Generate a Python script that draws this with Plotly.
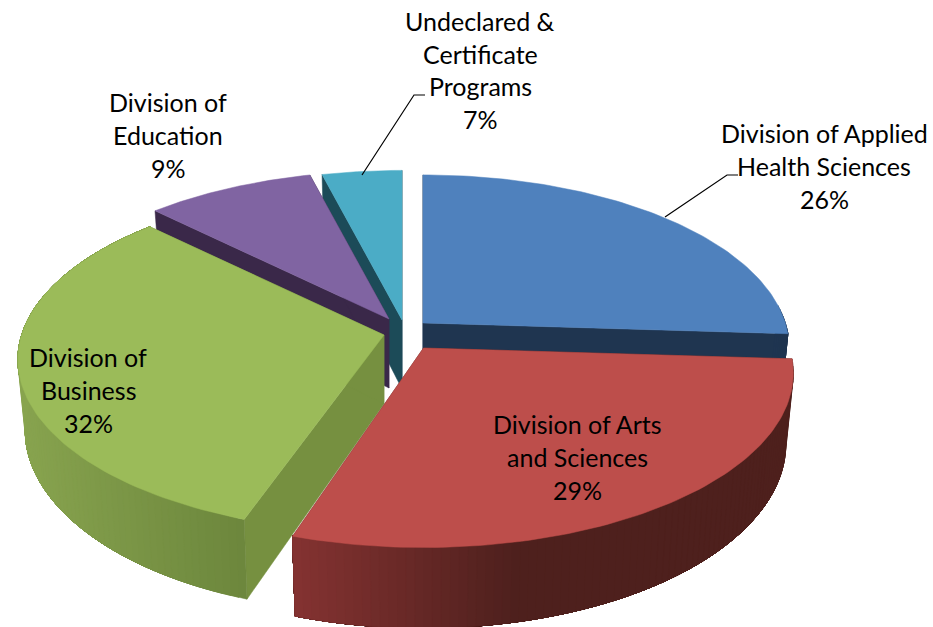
import math
import plotly.graph_objects as go

# Data
categories = ["Division of Applied<br>Health Sciences", "Division of Arts<br>and Sciences",
              "Division of<br>Business", "Division of<br>Education",
              "Undeclared &<br>Certificate<br>Programs"]
slice_shares = [26, 29, 32, 9, 4]      # drawn angular share of each slice
percent_labels = ["26%", "29%", "32%", "9%", "7%"]

# Styling and layout
TOP = ["#4f81bd", "#bd4e4b", "#9bbb59", "#8064a2", "#4bacc6"]
RADIAL = ["#1f3550", "#5a2422", "#769040", "#3a2849", "#1c4b58"]
WALL_LEFT = [(40, 70, 110), (134, 51, 50), (136, 164, 79), (60, 45, 80), (30, 80, 95)]
WALL_RIGHT = [(31, 53, 80), (78, 32, 29), (109, 135, 61), (58, 40, 73), (28, 75, 88)]
WALL_X = [(423, 787), (290, 520), (17, 241), (155, 315), (325, 402)]
APEX = [(423, 323), (423.5, 348), (384, 335), (389, 319), (402, 320)]
SCALE = [0.99, 1.0, 0.99, 0.99, 1.0]
TRIM_DEG = [(0, 0), (0, 0), (1.5, 1.5), (1.5, 0), (0, 0)]  # perspective correction of slice edges
RX, RY, K, DEPTH, BOTTOM_SHRINK = 366, 171, 0.143, 69, 0.98
LABEL_POS = [(824, 166), (577, 457), (88, 390), (168, 135), (480, 70)]
LINE_STEP = 32.8
LEADERS = [([665, 727, 738], [217, 175, 175]), ([362, 414, 425], [175, 95, 95])]
FONT = dict(family="Lato", size=25, color="#000000")


def top_pt(i, t):
    X, Y = math.sin(t), -math.cos(t)
    d = 1 - K * Y
    s = SCALE[i]
    return APEX[i][0] + s * RX * X / d, APEX[i][1] + s * RY * Y / d


def bot_pt(i, t):
    X, Y = math.sin(t), -math.cos(t)
    d = 1 - K * Y
    s = SCALE[i]
    return APEX[i][0] + s * BOTTOM_SHRINK * RX * X / d, APEX[i][1] + s * RY * Y / d + DEPTH / d


def poly(xs, ys, color, name=None):
    return go.Scatter(x=xs + xs[:1], y=ys + ys[:1], mode="lines", fill="toself",
                      fillcolor=color, line=dict(color=color, width=0.5),
                      showlegend=False, hoverinfo="skip" if name is None else "text",
                      text=name, name=name or "")


def wall_color(i, x):
    a, b = WALL_X[i]
    f = min(1, max(0, (x - a) / (b - a)))
    c = [round(l + (r - l) * f) for l, r in zip(WALL_LEFT[i], WALL_RIGHT[i])]
    return "rgb(%d,%d,%d)" % tuple(c)


fig = go.Figure()
total = sum(slice_shares)
angles, acc = [], 0
for i, v in enumerate(slice_shares):
    angles.append((acc / total * 2 * math.pi + math.radians(TRIM_DEG[i][0]),
                   (acc + v) / total * 2 * math.pi + math.radians(TRIM_DEG[i][1])))
    acc += v

for i in [4, 3, 0, 2, 1]:  # painter's order, back to front
    t0, t1 = angles[i]
    ax, ay = APEX[i]
    # radial faces
    for t in (t0, t1):
        x1, y1 = top_pt(i, t)
        x2, y2 = bot_pt(i, t)
        fig.add_trace(poly([ax, x1, x2, ax], [ay, y1, y2, ay + DEPTH], RADIAL[i]))
    # outer curved face: overlapping bands, each painted from its start to the slice end
    n = max(4, int((t1 - t0) / (2 * math.pi) * 300))
    for j in range(n):
        a = t0 + (t1 - t0) * j / n
        if -math.cos(a + (t1 - t0) / n / 2) < -0.1:
            continue
        steps = [a + (t1 - a) * s / 30 for s in range(31)]
        up = [top_pt(i, t) for t in steps]
        dn = [bot_pt(i, t) for t in reversed(steps)]
        fig.add_trace(poly([p[0] for p in up + dn], [p[1] for p in up + dn],
                           wall_color(i, top_pt(i, a)[0])))
    # top face
    m = 90
    pts = [top_pt(i, t0 + (t1 - t0) * j / m) for j in range(m + 1)]
    fig.add_trace(poly([ax] + [p[0] for p in pts], [ay] + [p[1] for p in pts], TOP[i],
                       categories[i].replace("<br>", " ") + ": " + percent_labels[i]))

for lx, ly in LEADERS:
    fig.add_trace(go.Scatter(x=lx, y=ly, mode="lines", line=dict(color="#000000", width=1.2),
                             showlegend=False, hoverinfo="skip"))

for i, (x, y) in enumerate(LABEL_POS):
    lines = categories[i].split("<br>") + [percent_labels[i]]
    for k, line in enumerate(lines):
        fig.add_annotation(x=x, y=y + (k - (len(lines) - 1) / 2) * LINE_STEP, xref="x", yref="y",
                           showarrow=False, xanchor="center", yanchor="middle", font=FONT, text=line)

fig.update_layout(width=933, height=627, margin=dict(l=0, r=0, t=0, b=0),
                  paper_bgcolor="#ffffff", plot_bgcolor="#ffffff", showlegend=False,
                  xaxis=dict(range=[0, 933], visible=False, fixedrange=True),
                  yaxis=dict(range=[627, 0], visible=False, fixedrange=True))
fig.write_html("out.html", config=dict(displayModeBar=False),
               post_script="document.body.style.margin='0';")
